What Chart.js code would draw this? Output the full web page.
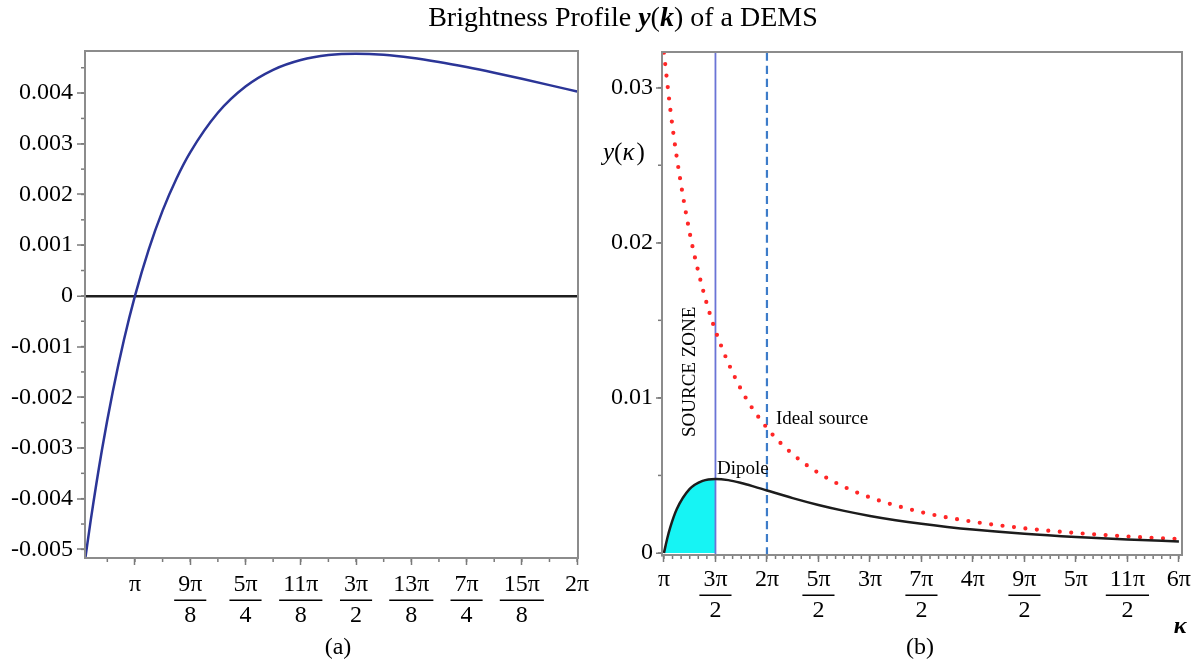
<!DOCTYPE html>
<html>
<head>
<meta charset="utf-8">
<script src="https://cdn.jsdelivr.net/npm/chart.js@4.4.1/dist/chart.umd.min.js"></script>
<style>
    html, body { margin: 0; padding: 0; background: #fff; }
    #wrap { position: relative; width: 1203px; height: 661px; overflow: hidden; }
    #title { position: absolute; left: 0; top: 1px; width: 1246px; text-align: center;
             font: 28px 'Liberation Serif', 'Times New Roman', serif; color: #000; }
    #boxA { position: absolute; left: 0; top: 0; }
    #boxB { position: absolute; left: 600px; top: 0; }
</style>
</head>
<body>
<div id="wrap">
    <canvas id="boxA" width="600" height="661"></canvas>
    <canvas id="boxB" width="603" height="661"></canvas>
    <div id="title">Brightness Profile <b><i>y</i></b>(<b><i>k</i></b>) of a DEMS</div>
</div>
<script>
// k values are in units of π

// (a) brightness profile around the zero crossing
const kA = [0.888, 0.9, 0.925, 0.95, 0.975, 1, 1.03125, 1.0625, 1.09375, 1.125, 1.1875, 1.25,
            1.3125, 1.375, 1.4375, 1.5, 1.5625, 1.625, 1.6875, 1.75, 1.8125, 1.875, 1.9375, 2];
const yA = [-0.005159, -0.004424, -0.003056, -0.001881, -0.000870, 0, 0.000919, 0.001681, 0.002311,
            0.002831, 0.003611, 0.004128, 0.004458, 0.004652, 0.004750, 0.004778, 0.004756, 0.004698,
            0.004614, 0.004513, 0.004401, 0.004281, 0.004157, 0.004031];

// (b) dipole curve and ideal source
const kDipole = [1, 1.03125, 1.0625, 1.125, 1.25, 1.375, 1.5, 1.625, 1.75, 1.875, 2, 2.25, 2.5,
                 2.75, 3, 3.25, 3.5, 3.75, 4, 4.5, 5, 5.5, 6];
const yDipole = [0, 0.000919, 0.001681, 0.002831, 0.004128, 0.004652, 0.004778, 0.004698, 0.004513,
                 0.004281, 0.004031, 0.003539, 0.003096, 0.002714, 0.002389, 0.002114, 0.001881,
                 0.001682, 0.001512, 0.001239, 0.001032, 0.000872, 0.000747];
const kIdeal = [1, 1.0625, 1.125, 1.25, 1.375, 1.5, 1.75, 2, 2.25, 2.5, 2.75, 3, 3.5, 4, 4.5, 5, 5.5, 6];
const yIdeal = [0.032252, 0.028570, 0.025483, 0.020641, 0.017059, 0.014334, 0.010531, 0.008063,
                0.006371, 0.005160, 0.004265, 0.003584, 0.002633, 0.002016, 0.001593, 0.001290,
                0.001066, 0.000896];
const sourceEdge = 1.5;   // 3π/2
const idealEdge = 2;      // 2π

// tick values and labels
const xTicksA = [1, 1.125, 1.25, 1.375, 1.5, 1.625, 1.75, 1.875, 2];
const xLabelsA = ['π', ['9π', '8'], ['5π', '4'], ['11π', '8'], ['3π', '2'], ['13π', '8'], ['7π', '4'], ['15π', '8'], '2π'];
const yTicksA = [-0.005, -0.004, -0.003, -0.002, -0.001, 0, 0.001, 0.002, 0.003, 0.004];
const yLabelsA = ['-0.005', '-0.004', '-0.003', '-0.002', '-0.001', '0', '0.001', '0.002', '0.003', '0.004'];
const xTicksB = [1, 1.5, 2, 2.5, 3, 3.5, 4, 4.5, 5, 5.5, 6];
const xLabelsB = ['π', ['3π', '2'], '2π', ['5π', '2'], '3π', ['7π', '2'], '4π', ['9π', '2'], '5π', ['11π', '2'], '6π'];
const yTicksB = [0, 0.01, 0.02, 0.03];
const yLabelsB = ['0', '0.01', '0.02', '0.03'];

const SERIF = "'Liberation Serif', 'Times New Roman', serif";
const TICK_SIZE = 24;
const LINE_H = 1.3;
const AXIS_GREY = '#7a7a7a';

function pts(xs, ys) {
    return xs.map((x, i) => ({ x: x, y: ys[i] }));
}

function xAxis(min, max, ticks, labels, height, pad) {
    return {
        type: 'linear', min: min, max: max,
        afterBuildTicks: s => { s.ticks = ticks.map(v => ({ value: v })); },
        afterFit: s => { s.height = height; },
        grid: { drawOnChartArea: false, drawTicks: true, tickLength: 7, tickColor: AXIS_GREY, tickWidth: 1.5 },
        border: { color: AXIS_GREY, width: 2 },
        ticks: {
            autoSkip: false, maxRotation: 0, minRotation: 0, padding: pad, color: '#000',
            font: { family: SERIF, size: TICK_SIZE, lineHeight: LINE_H },
            callback: (v, i) => labels[i]
        }
    };
}

function yAxis(min, max, ticks, labels, width, tickLen, pad, zeroLine) {
    return {
        type: 'linear', min: min, max: max,
        afterBuildTicks: s => { s.ticks = ticks.map(v => ({ value: v })); },
        afterFit: s => { s.width = width; },
        grid: {
            drawOnChartArea: zeroLine, drawTicks: true, tickLength: tickLen,
            color: c => (c.tick && c.tick.value === 0) ? '#1e1e1e' : 'rgba(0,0,0,0)',
            lineWidth: c => (c.tick && c.tick.value === 0) ? 2.5 : 0,
            tickColor: AXIS_GREY, tickWidth: 1.5
        },
        border: { color: AXIS_GREY, width: 2 },
        ticks: {
            padding: pad, color: '#000',
            font: { family: SERIF, size: TICK_SIZE },
            callback: (v, i) => labels[i]
        }
    };
}

// short minor ticks, frame and fraction bars under stacked tick labels
function axisDecor(minorX, minorY, xPad, labelsX) {
    return {
        id: 'axisDecor',
        afterDraw(chart) {
            const ctx = chart.ctx;
            const sx = chart.scales.x, sy = chart.scales.y;
            const a = chart.chartArea;
            ctx.save();
            ctx.strokeStyle = AXIS_GREY;
            ctx.lineWidth = 1.5;
            const n1 = Math.ceil(sx.min / minorX - 1e-6), n2 = Math.floor(sx.max / minorX + 1e-6);
            for (let i = n1; i <= n2; i++) {
                const p = sx.getPixelForValue(i * minorX);
                ctx.beginPath(); ctx.moveTo(p, a.bottom); ctx.lineTo(p, a.bottom + 4); ctx.stroke();
            }
            const m1 = Math.ceil(sy.min / minorY - 1e-6), m2 = Math.floor(sy.max / minorY + 1e-6);
            for (let i = m1; i <= m2; i++) {
                const p = sy.getPixelForValue(i * minorY);
                ctx.beginPath(); ctx.moveTo(a.left, p); ctx.lineTo(a.left - 4, p); ctx.stroke();
            }
            // frame
            ctx.strokeStyle = '#8c8c8c';
            ctx.lineWidth = 2;
            ctx.strokeRect(a.left, a.top, a.right - a.left, a.bottom - a.top);
            // fraction bars
            ctx.strokeStyle = '#000';
            ctx.lineWidth = 1.5;
            ctx.font = TICK_SIZE + 'px ' + SERIF;
            const barY = sx.top + 7 + xPad + TICK_SIZE * LINE_H;
            sx.ticks.forEach((t, i) => {
                const lab = labelsX[i];
                if (!Array.isArray(lab)) return;
                const px = sx.getPixelForValue(t.value);
                const w = ctx.measureText(lab[0]).width + 8;
                ctx.beginPath(); ctx.moveTo(px - w / 2, barY); ctx.lineTo(px + w / 2, barY); ctx.stroke();
            });
            ctx.restore();
        }
    };
}

function text(ctx, str, x, y, font, align) {
    ctx.font = font;
    ctx.textAlign = align || 'left';
    ctx.textBaseline = 'middle';
    ctx.fillStyle = '#000';
    ctx.fillText(str, x, y);
}

const baseOptions = {
    responsive: false,
    animation: false,
    plugins: { legend: { display: false }, tooltip: { enabled: false } },
    elements: { point: { radius: 0 }, line: { cubicInterpolationMode: 'monotone' } }
};

// (a)
new Chart(document.getElementById('boxA').getContext('2d'), {
    type: 'line',
    data: {
        datasets: [{
            data: pts(kA, yA),
            borderColor: '#2b3597',
            borderWidth: 2.5,
            fill: false
        }]
    },
    options: {
        ...baseOptions,
        layout: { padding: { left: 0, top: 51, right: 22, bottom: 0 } },
        scales: {
            x: xAxis(0.887, 2.002, xTicksA, xLabelsA, 103, 4),
            y: yAxis(-0.00517, 0.00483, yTicksA, yLabelsA, 85, 8, 4, true)
        }
    },
    plugins: [axisDecor(0.0625, 0.0005, 4, xLabelsA), {
        id: 'panelA',
        afterDraw(chart) {
            text(chart.ctx, '(a)', 338, 648, TICK_SIZE + 'px ' + SERIF, 'center');
        }
    }]
});

// (b)
const yMinB = -0.00013, yMaxB = 0.0323;
new Chart(document.getElementById('boxB').getContext('2d'), {
    type: 'line',
    data: {
        datasets: [
            {
                // dipole curve
                data: pts(kDipole, yDipole),
                borderColor: '#1c1c1c', borderWidth: 2.5, fill: false, order: 1
            },
            {
                // ideal source
                data: pts(kIdeal, yIdeal),
                borderColor: '#ff2626', borderWidth: 4.2, borderDash: [0, 11.5],
                borderCapStyle: 'round', fill: false, order: 2
            },
            {
                // source zone limit
                data: [{ x: sourceEdge, y: yMinB }, { x: sourceEdge, y: yMaxB }],
                borderColor: '#6a74d6', borderWidth: 1.8, fill: false, order: 3
            },
            {
                data: [{ x: idealEdge, y: yMinB }, { x: idealEdge, y: yMaxB }],
                borderColor: '#3d7cc9', borderWidth: 2.2, borderDash: [8, 5], fill: false, order: 4
            },
            {
                // shaded source zone under the dipole curve
                data: pts(kDipole, yDipole).filter(p => p.x <= sourceEdge),
                borderWidth: 0, borderColor: 'rgba(0,0,0,0)',
                backgroundColor: '#16f4f4', fill: 'origin', order: 5
            }
        ]
    },
    options: {
        ...baseOptions,
        layout: { padding: { left: 0, top: 52, right: 21, bottom: 0 } },
        scales: {
            x: xAxis(0.981, 6.03, xTicksB, xLabelsB, 106, 2),
            y: yAxis(yMinB, yMaxB, yTicksB, yLabelsB, 62, 6, 3, false)
        }
    },
    plugins: [axisDecor(1 / 12, 0.005, 2, xLabelsB), {
        id: 'panelB',
        afterDraw(chart) {
            const ctx = chart.ctx;
            const sx = chart.scales.x, sy = chart.scales.y;
            const small = '19px ' + SERIF;
            text(ctx, 'Ideal source', sx.getPixelForValue(2.087), sy.getPixelForValue(0.00865), small);
            text(ctx, 'Dipole', sx.getPixelForValue(1.515), sy.getPixelForValue(0.00542), small);
            ctx.save();
            ctx.translate(sx.getPixelForValue(1.252), sy.getPixelForValue(0.01168));
            ctx.rotate(-Math.PI / 2);
            text(ctx, 'SOURCE ZONE', 0, 0, small, 'center');
            ctx.restore();
            // axis names
            const it = 'italic 25px ' + SERIF, up = '25px ' + SERIF;
            let x = 3;
            [['y', it], ['(', up], ['κ', it], [')', up]].forEach(([s, f]) => {
                text(ctx, s, x, 153, f);
                x += ctx.measureText(s).width + (s === 'κ' ? 2 : 0);
            });
            text(ctx, 'κ', 580, 627, 'italic bold 24px ' + SERIF, 'center');
            text(ctx, '(b)', 320, 648, '24px ' + SERIF, 'center');
        }
    }]
});
</script>
</body>
</html>
